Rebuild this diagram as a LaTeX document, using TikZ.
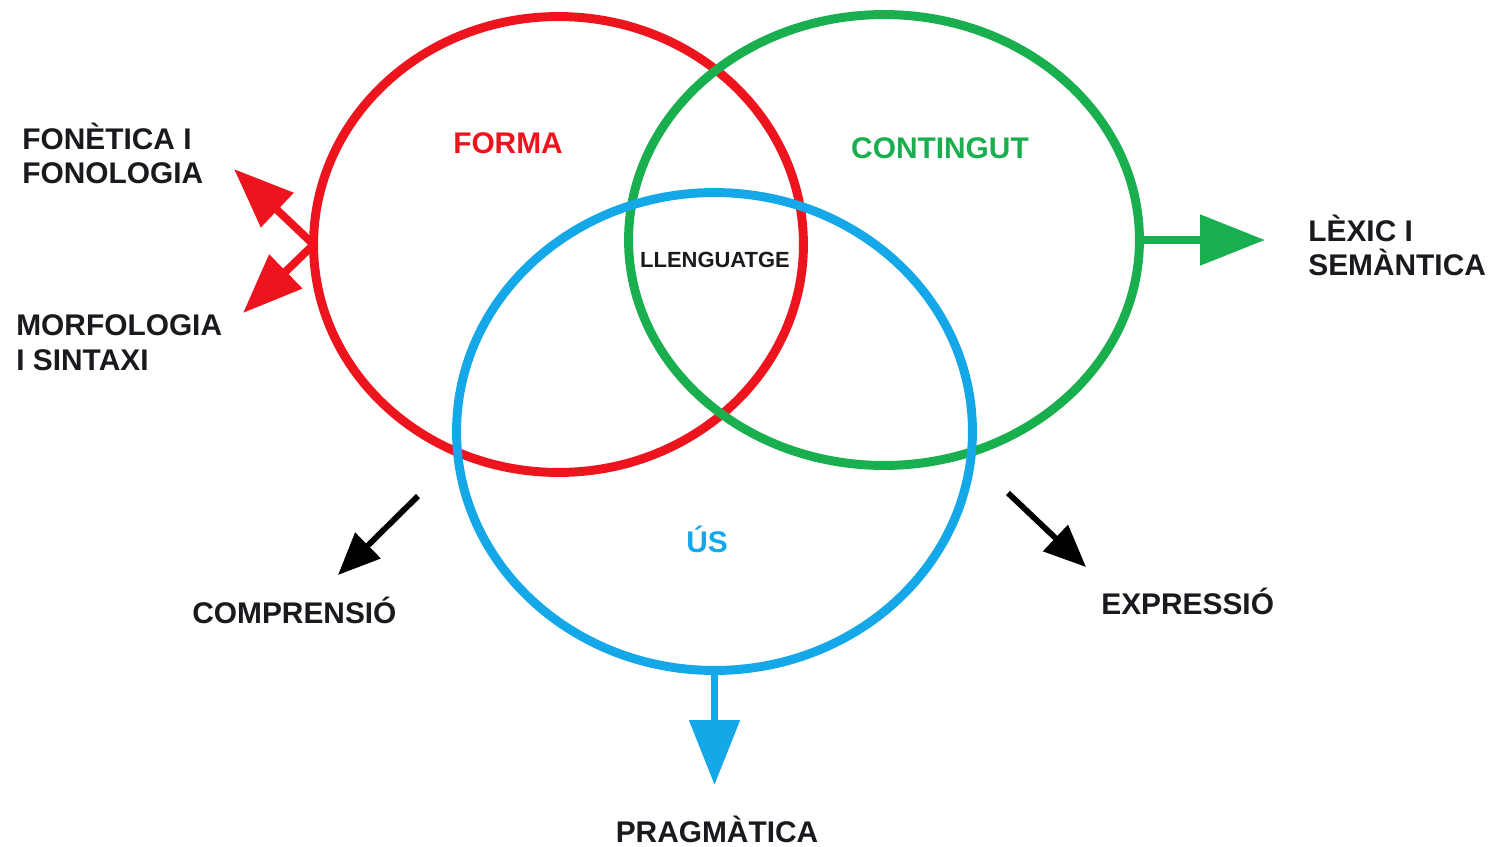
\documentclass[tikz,border=0pt]{standalone}
\usepackage{fontspec}
\setmainfont{Liberation Sans}
\usetikzlibrary{arrows.meta,shapes.geometric}
\definecolor{cred}{RGB}{238,20,30}
\definecolor{cgreen}{RGB}{25,175,78}
\definecolor{cblue}{RGB}{20,168,232}
\definecolor{ctext}{RGB}{25,25,30}
\begin{document}
\begin{tikzpicture}[x=0.02cm,y=-0.02cm,
  ring/.style={ellipse, draw, line width=5.1pt, inner sep=0pt, outer sep=0pt},
  lbl/.style={font=\fontsize{17}{20}\selectfont\bfseries, text=ctext, inner sep=0pt},
  bigarrow/.style={line width=4.5pt, -{Triangle[length=34pt,width=26pt]}},
  widearrow/.style={line width=4.5pt, -{Triangle[length=37pt,width=28pt]}},
  blackarrow/.style={line width=3.3pt, draw=black, -{Triangle[length=24pt,width=20pt]}}
]
\useasboundingbox (0,0) rectangle (1491,846);

% circles
\node[ring, draw=cred, minimum width=9.8cm, minimum height=9.12cm] (F) at (558.5,244.5) {};
\node[ring, draw=cgreen, minimum width=10.22cm, minimum height=9.02cm] (G) at (884,240) {};
\node[ring, draw=cblue, minimum width=10.32cm, minimum height=9.56cm] (U) at (714.5,431.5) {};

% inner labels
\node[lbl, text=cred, anchor=base] (forma) at (508,153) {FORMA};
\node[lbl, text=cgreen, anchor=base] (contingut) at (940,158) {CONTINGUT};
\node[lbl, text=cblue, anchor=base] (us) at (707,552) {ÚS};
\node[lbl, font=\fontsize{12.5}{15}\selectfont\bfseries, anchor=base] (llen) at (715,267) {LLENGUATGE};

% outer labels
\node[lbl, anchor=base west] (fon1) at (22,149) {FONÈTICA I};
\node[lbl, anchor=base west] (fon2) at (22,183) {FONOLOGIA};
\node[lbl, anchor=base west] (mor1) at (16,335) {MORFOLOGIA};
\node[lbl, anchor=base west] (mor2) at (16,370) {I SINTAXI};
\node[lbl, anchor=base west] (lex1) at (1308,241) {LÈXIC I};
\node[lbl, anchor=base west] (lex2) at (1308,275) {SEMÀNTICA};
\node[lbl, anchor=base west] (comp) at (192,623) {COMPRENSIÓ};
\node[lbl, anchor=base west] (expr) at (1101,614) {EXPRESSIÓ};
\node[lbl, anchor=base] (prag) at (717,842) {PRAGMÀTICA};

% arrow ends
\coordinate (fonTip) at (234,169);
\coordinate (morTip) at (243,313);
\coordinate (lexTip) at (1265,240);
\coordinate (pragTip) at (714.5,785);
\coordinate (compS) at (418,496);
\coordinate (compTip) at (338,575);
\coordinate (exprS) at (1008,493);
\coordinate (exprTip) at (1086,567);

% arrows
\draw[bigarrow, draw=cred, fill=cred] (F.west) -- (fonTip);
\draw[bigarrow, draw=cred, fill=cred] (F.west) -- (morTip);
\draw[widearrow, draw=cgreen, fill=cgreen] (G.east) -- (lexTip);
\draw[widearrow, draw=cblue, fill=cblue] (U.south) -- (pragTip);
\draw[blackarrow] (compS) -- (compTip);
\draw[blackarrow] (exprS) -- (exprTip);
\end{tikzpicture}
\end{document}
